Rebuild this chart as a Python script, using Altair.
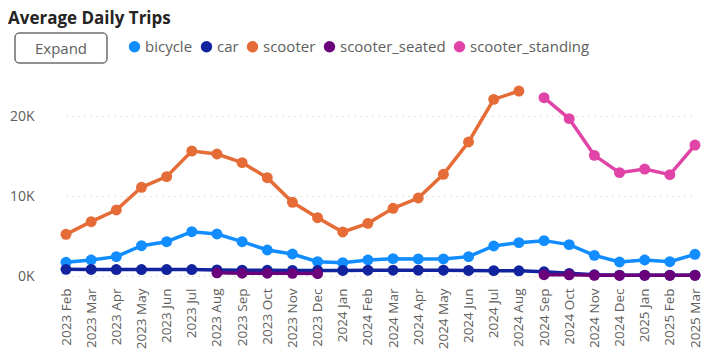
import altair as alt
import pandas as pd

months = ["2023 Feb", "2023 Mar", "2023 Apr", "2023 May", "2023 Jun", "2023 Jul",
          "2023 Aug", "2023 Sep", "2023 Oct", "2023 Nov", "2023 Dec",
          "2024 Jan", "2024 Feb", "2024 Mar", "2024 Apr", "2024 May", "2024 Jun",
          "2024 Jul", "2024 Aug", "2024 Sep", "2024 Oct", "2024 Nov", "2024 Dec",
          "2025 Jan", "2025 Feb", "2025 Mar"]

bicycle = [1710, 2000, 2420, 3790, 4290, 5540, 5250, 4290, 3250, 2750, 1790,
           1670, 2000, 2170, 2130, 2130, 2420, 3750, 4170, 4420, 3920, 2580, 1750,
           2000, 1790, 2710]
car = [830, 820, 800, 800, 800, 800, 760, 730, 710, 700, 690,
       700, 720, 720, 720, 720, 700, 670, 650, 520, 330, 150, 100,
       100, 100, 100]
scooter = [5210, 6790, 8250, 11090, 12420, 15620, 15250, 14170, 12290, 9210, 7290,
           5500, 6580, 8460, 9750, 12710, 16750, 22080, 23120, None, None, None, None,
           None, None, None]
scooter_seated = [None, None, None, None, None, None, 400, 350, 350, 330, 300,
                  None, None, None, None, None, None, None, None, 160, 150, 80, 80,
                  80, 80, 80]
scooter_standing = [None] * 19 + [22290, 19670, 15080, 12920, 13370, 12670, 16370]

series_names = ["bicycle", "car", "scooter", "scooter_seated", "scooter_standing"]
series_colors = ["#118DFF", "#12239E", "#E66C37", "#6B007B", "#E044A7"]
series_values = [bicycle, car, scooter, scooter_seated, scooter_standing]

rows = []
for name, vals in zip(series_names, series_values):
    seg = 0
    prev_none = True
    for m, v in zip(months, vals):
        if v is None:
            prev_none = True
            continue
        if prev_none:
            seg += 1
        prev_none = False
        rows.append({"month": m, "series": name, "value": v, "seg": f"{name}_{seg}"})
df = pd.DataFrame(rows)

FONT = "Open Sans"

x_enc = alt.X("month:O", sort=months, title=None,
              scale=alt.Scale(type="point", domain=months, range=[23, 652], padding=0),
              axis=alt.Axis(labelAngle=270, labelFontSize=13.5, labelColor="#605E5C",
                            labelFont=FONT, domain=False, ticks=False, labelPadding=12,
                            grid=False))
y_enc = alt.Y("value:Q", title=None,
              scale=alt.Scale(domain=[0, 24000], nice=False, zero=True),
              axis=alt.Axis(values=[0, 10000, 20000], labelExpr="datum.value/1000 + 'K'",
                            labelFontSize=14, labelColor="#605E5C", labelFont=FONT,
                            domain=False, ticks=False, labelPadding=9,
                            gridColor="#C8C6C4", gridDash=[1, 5], gridWidth=1))
color_scale = alt.Scale(domain=series_names, range=series_colors)
color_enc = alt.Color("series:N", scale=color_scale,
                      legend=alt.Legend(orient="none", legendX=84, legendY=-45,
                                        direction="horizontal", title=None,
                                        symbolType="circle", symbolSize=130,
                                        symbolStrokeWidth=0, symbolOpacity=1,
                                        labelFontSize=15, labelColor="#605E5C",
                                        labelFont=FONT, columnPadding=6, labelOffset=3))

base = alt.Chart(df)
lines = base.mark_line(strokeWidth=3.5).encode(
    x=x_enc, y=y_enc, color=color_enc, detail="seg:N")
points = base.mark_circle(size=120, opacity=1).encode(
    x=x_enc, y=y_enc, color=alt.Color("series:N", scale=color_scale, legend=None))

btn_df = pd.DataFrame({"label": ["Expand"]})
button = alt.Chart(btn_df).mark_rect(
    fill="white", stroke="#252423", strokeWidth=1, cornerRadius=4, clip=False
).encode(x=alt.value(-28), x2=alt.value(64), y=alt.value(-51), y2=alt.value(-21))
button_text = alt.Chart(btn_df).mark_text(
    font=FONT, fontSize=15, color="#605E5C", align="center", baseline="middle", clip=False
).encode(text="label:N", x=alt.value(18), y=alt.value(-35))

chart = alt.layer(lines, points, button, button_text).properties(
    width=664, height=192,
    title=alt.TitleParams("Average Daily Trips", anchor="start", font=FONT, fontSize=17,
                          fontWeight="bold", color="#252423", offset=5, dx=-35,
                          frame="group"),
    padding={"left": 35, "top": 76, "right": 0, "bottom": 77},
    autosize=alt.AutoSizeParams(type="none"),
).configure_view(stroke=None)

chart.save("out.html", embed_options={"renderer": "svg", "actions": False})
